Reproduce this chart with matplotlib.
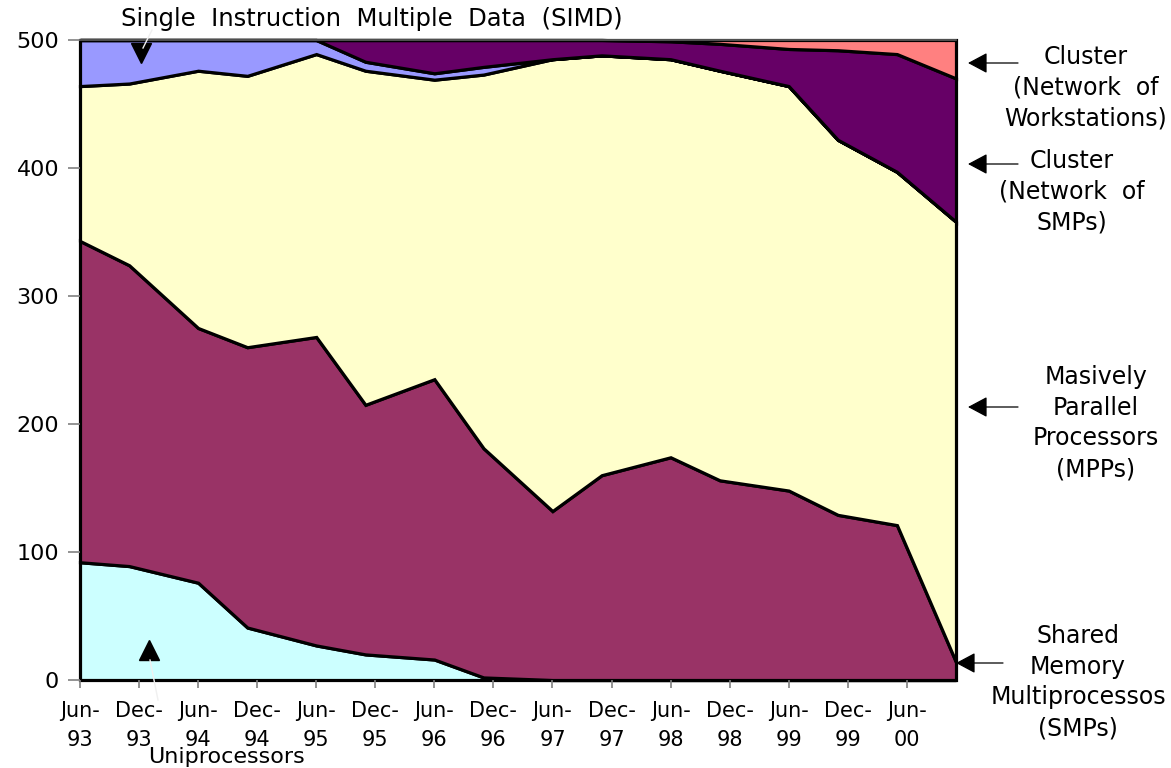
import matplotlib
matplotlib.use("Agg")
import matplotlib.pyplot as plt

plt.rcParams["font.family"] = ["DejaVu Sans"]

# months after June 1993 for each list (June and November editions)
months = [0, 5, 12, 17, 24, 29, 36, 41, 48, 53, 60, 65, 72, 77, 83, 89]

uniprocessors = [92, 89, 76, 41, 27, 20, 16, 2, 0, 0, 0, 0, 0, 0, 0, 0]
smp = [251, 235, 199, 219, 241, 195, 219, 179, 132, 160, 174, 156, 148, 129, 121, 14]
mpp = [121, 142, 201, 212, 221, 261, 234, 292, 353, 328, 311, 320, 316, 293, 276, 344]
simd = [36, 34, 24, 28, 11, 7, 5, 6, 0, 0, 0, 0, 0, 0, 0, 0]
cluster_smp = [0, 0, 0, 0, 0, 17, 26, 21, 15, 12, 14, 21, 29, 70, 92, 112]
cluster_now = [0, 0, 0, 0, 0, 0, 0, 0, 0, 0, 1, 3, 7, 8, 11, 30]

tick_months = list(range(0, 85, 6))
tick_labels = ["Jun-\n93", "Dec-\n93", "Jun-\n94", "Dec-\n94", "Jun-\n95", "Dec-\n95",
               "Jun-\n96", "Dec-\n96", "Jun-\n97", "Dec-\n97", "Jun-\n98", "Dec-\n98",
               "Jun-\n99", "Dec-\n99", "Jun-\n00"]

colors = ["#CCFFFF", "#993366", "#FFFFCC", "#9999FF", "#660066", "#FF8080"]

W, H = 1171, 768
fig = plt.figure(figsize=(W / 100, H / 100), dpi=100)
ax = fig.add_axes([80 / W, 88 / H, 876 / W, 640 / H])

polys = ax.stackplot(months, uniprocessors, smp, mpp, simd, cluster_smp, cluster_now,
                     colors=colors, edgecolor="black", linewidth=2.3)
for p in polys:
    p.set_clip_on(False)
    p.set_joinstyle("miter")

ax.set_xlim(0, 89)
ax.set_ylim(0, 500)
ax.set_xticks(tick_months)
ax.set_xticklabels(tick_labels, linespacing=1.55)
ax.set_yticks(range(0, 501, 100))
ax.tick_params(axis="x", direction="out", length=6, width=1.2, color="#808080",
               pad=9, labelsize=15)
ax.tick_params(axis="y", direction="out", length=9, width=1.2, color="#808080",
               pad=6, labelsize=16)
for s in ["left", "right", "bottom"]:
    ax.spines[s].set_visible(False)
ax.spines["top"].set_color("#606060")
ax.spines["top"].set_linewidth(1.2)


def px(x, y):
    # pixel position (from top-left) to figure fraction
    return (x / W, 1 - y / H)


txt = dict(fontsize=17, ha="center", va="center", linespacing=1.36)
fig.text(*px(372, 19), "Single  Instruction  Multiple  Data  (SIMD)",
         **{**txt, "fontsize": 17.5})
fig.text(*px(226, 767), "Uniprocessors", **{**txt, "fontsize": 16, "va": "bottom"})
fig.text(*px(1086, 88), "Cluster\n(Network  of\nWorkstations)", **txt)
fig.text(*px(1072, 192), "Cluster\n(Network  of\nSMPs)", **txt)
fig.text(*px(1096, 423), "Masively\nParallel\nProcessors\n(MPPs)", **txt)
fig.text(*px(1078, 682), "Shared\nMemory\nMultiprocessos\n(SMPs)", **txt)

# pointer arrows for the labels on the right
arrow = dict(arrowstyle="-|>,head_length=0.6,head_width=0.32", mutation_scale=20,
             color="black", lw=0.9, shrinkA=0, shrinkB=0)
for tip, tail in [((968, 63), (1018, 63)), ((968, 164), (1018, 164)),
                  ((968, 407), (1018, 407)), ((956, 663), (1003, 663))]:
    ax.annotate("", xy=px(*tip), xytext=px(*tail), xycoords="figure fraction",
                textcoords="figure fraction", arrowprops=arrow, annotation_clip=False)

# faint leader lines with triangle pointers for SIMD and uniprocessors
fig.add_artist(plt.Line2D([152 / W, 143 / W], [1 - 30 / H, 1 - 48 / H],
                          color="#f0f0f0", lw=1))
fig.add_artist(plt.Line2D([150 / W, 158 / W], [1 - 660 / H, 1 - 700 / H],
                          color="#f0f0f0", lw=1))
ax.plot([(141 - 80) / 876], [(680 - 53) / 640], marker="v", ms=15, color="black",
        transform=ax.transAxes, clip_on=False)
ax.plot([(149 - 80) / 876], [(680 - 650) / 640], marker="^", ms=14, color="black",
        transform=ax.transAxes, clip_on=False)

fig.savefig("out.png", dpi=100)
